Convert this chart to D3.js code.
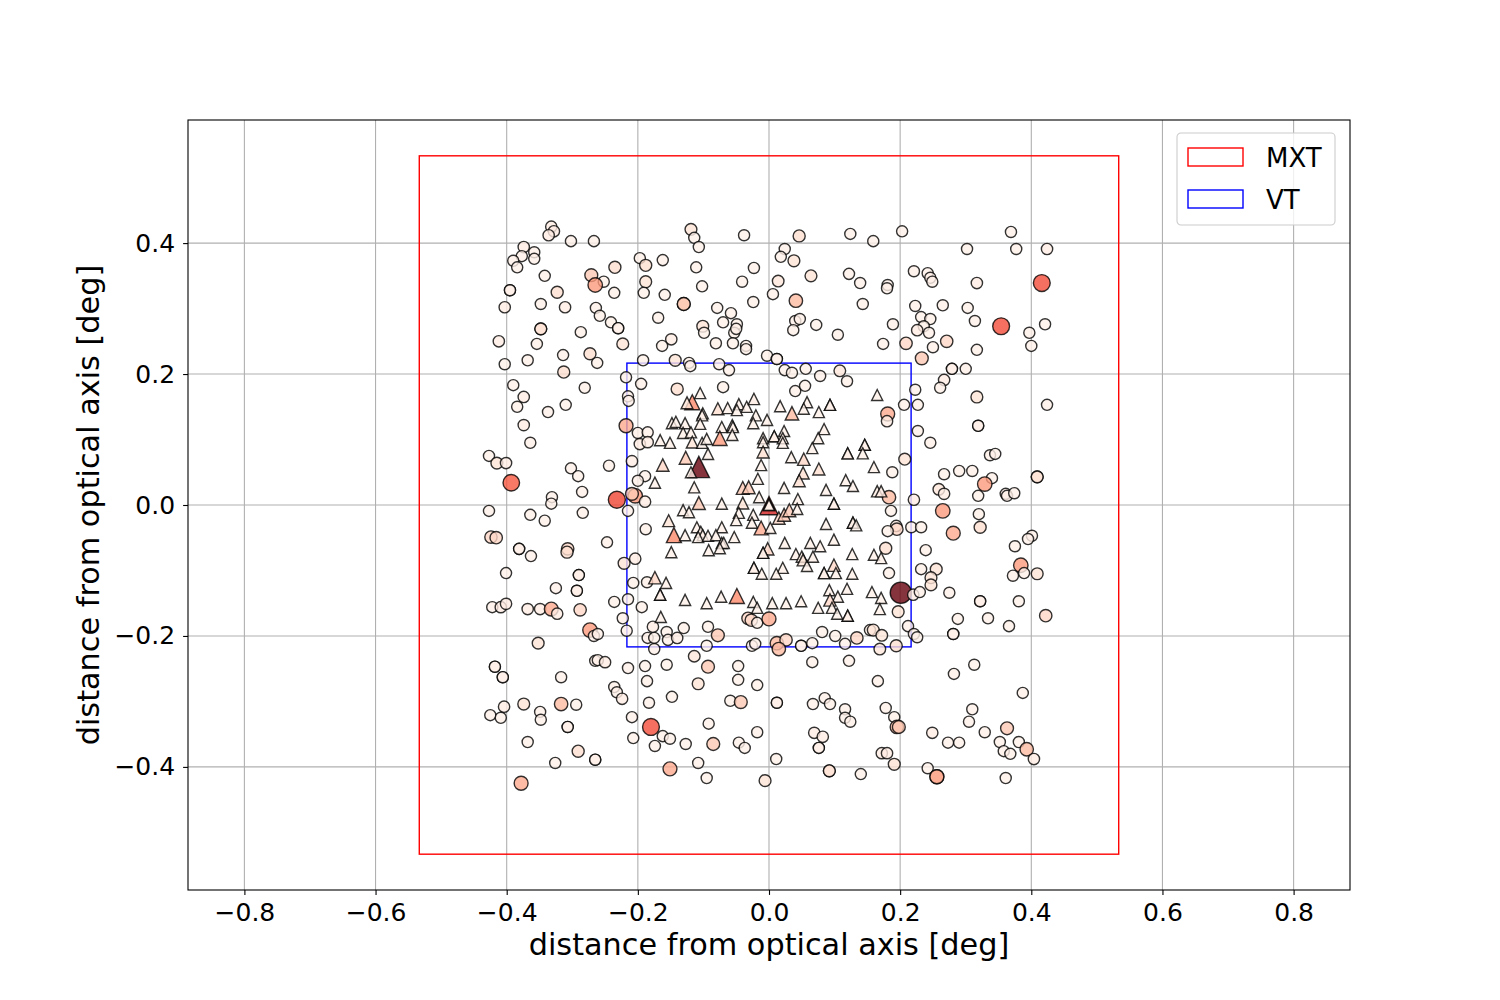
<!DOCTYPE html>
<html lang="en">
<head>
<meta charset="UTF-8">
<title>MXT / VT sources</title>
<script src="https://d3js.org/d3.v7.min.js"></script>
<style>
  body { margin: 0; background: #fff; }
  text { font-family: "DejaVu Sans", sans-serif; }
</style>
</head>
<body>
<div id="chart"></div>
<script>
// sources seen only by MXT (circles): [x deg, y deg, value]
const mxtSrc = [
  [-0.332,0.425,0.05],[-0.328,0.418,0.05],[-0.336,0.412,0.05],[-0.302,0.403,0.03],[-0.267,0.403,0.03],[-0.374,0.394,0.05],[-0.358,0.386,0.03],[-0.377,0.380,0.03],[-0.390,0.373,0.03],[-0.358,0.376,0.03],
  [-0.384,0.363,0.03],[-0.342,0.350,0.03],[-0.271,0.351,0.2],[-0.235,0.363,0.12],[-0.252,0.341,0.03],[-0.265,0.336,0.35],[-0.197,0.377,0.03],[-0.188,0.366,0.12],[-0.162,0.374,0.03],[-0.188,0.341,0.1],
  [-0.191,0.324,0.03],[-0.159,0.321,0.03],[-0.395,0.328,0.03],[-0.395,0.328,0.03],[-0.323,0.325,0.12],[-0.236,0.324,0.03],[-0.403,0.302,0.05],[-0.348,0.307,0.03],[-0.311,0.302,0.05],[-0.264,0.301,0.03],
  [-0.258,0.289,0.03],[-0.241,0.279,0.03],[-0.230,0.270,0.03],[-0.230,0.270,0.03],[-0.169,0.286,0.03],[-0.348,0.269,0.1],[-0.348,0.269,0.1],[-0.287,0.264,0.03],[-0.412,0.250,0.05],[-0.354,0.246,0.03],
  [-0.223,0.246,0.1],[-0.149,0.253,0.05],[-0.163,0.243,0.03],[-0.314,0.229,0.03],[-0.273,0.231,0.12],[-0.262,0.217,0.03],[-0.403,0.215,0.03],[-0.368,0.221,0.03],[-0.192,0.221,0.03],[-0.313,0.203,0.12],
  [-0.218,0.195,0.03],[-0.195,0.185,0.03],[-0.390,0.183,0.03],[-0.374,0.165,0.05],[-0.281,0.179,0.03],[-0.215,0.166,0.03],[-0.214,0.159,0.03],[-0.384,0.150,0.03],[-0.337,0.142,0.03],[-0.310,0.153,0.03],
  [-0.119,0.421,0.1],[-0.114,0.408,0.03],[-0.107,0.394,0.03],[-0.038,0.412,0.03],[0.046,0.411,0.12],[0.124,0.414,0.03],[0.159,0.403,0.03],[0.024,0.391,0.03],[0.018,0.379,0.03],[0.038,0.373,0.1],
  [-0.111,0.363,0.03],[-0.023,0.362,0.03],[0.064,0.350,0.1],[0.122,0.353,0.03],[0.139,0.339,0.03],[-0.041,0.341,0.03],[0.014,0.342,0.08],[-0.102,0.334,0.03],[0.006,0.322,0.03],[-0.130,0.307,0.2],
  [-0.130,0.307,0.2],[0.041,0.312,0.25],[0.143,0.307,0.03],[-0.024,0.310,0.03],[-0.079,0.301,0.03],[-0.058,0.293,0.03],[-0.070,0.279,0.03],[-0.049,0.276,0.03],[-0.101,0.273,0.1],[-0.099,0.263,0.03],
  [-0.053,0.263,0.03],[-0.050,0.269,0.03],[0.040,0.281,0.03],[0.047,0.284,0.03],[0.037,0.267,0.03],[0.072,0.275,0.03],[0.105,0.260,0.03],[-0.081,0.247,0.03],[-0.055,0.247,0.03],[-0.035,0.243,0.03],
  [-0.035,0.238,0.03],[-0.003,0.228,0.03],[0.012,0.223,0.03],[0.012,0.223,0.03],[-0.143,0.221,0.1],[-0.122,0.217,0.03],[-0.120,0.212,0.03],[-0.076,0.215,0.03],[-0.061,0.206,0.03],[0.024,0.206,0.03],
  [0.035,0.202,0.03],[0.056,0.208,0.03],[0.078,0.197,0.03],[0.108,0.205,0.08],[0.119,0.189,0.03],[-0.140,0.177,0.12],[-0.070,0.180,0.03],[0.040,0.174,0.03],[0.055,0.182,0.03],
  [0.203,0.418,0.03],[0.369,0.417,0.03],[0.377,0.391,0.03],[0.424,0.391,0.05],[0.302,0.391,0.03],[0.221,0.357,0.03],[0.242,0.354,0.03],[0.246,0.347,0.03],[0.249,0.341,0.03],[0.181,0.336,0.03],
  [0.180,0.331,0.03],[0.317,0.339,0.05],[0.416,0.339,0.58],[0.223,0.304,0.03],[0.265,0.305,0.03],[0.303,0.301,0.03],[0.232,0.287,0.03],[0.246,0.284,0.03],[0.236,0.273,0.03],[0.226,0.267,0.05],
  [0.244,0.263,0.03],[0.189,0.276,0.03],[0.314,0.281,0.03],[0.354,0.273,0.58],[0.421,0.276,0.03],[0.397,0.263,0.03],[0.400,0.243,0.03],[0.174,0.246,0.03],[0.209,0.247,0.15],[0.271,0.250,0.15],
  [0.250,0.241,0.03],[0.317,0.237,0.03],[0.233,0.224,0.2],[0.279,0.208,0.03],[0.279,0.208,0.03],[0.300,0.208,0.03],[0.267,0.191,0.05],[0.261,0.179,0.03],[0.223,0.176,0.03],[0.317,0.165,0.1],
  [0.206,0.153,0.03],[0.227,0.153,0.03],[0.181,0.139,0.3],[0.424,0.153,0.03],
  [-0.374,0.122,0.05],[-0.364,0.095,0.03],[-0.218,0.121,0.3],[-0.200,0.110,0.03],[-0.185,0.111,0.03],[-0.197,0.093,0.05],[-0.185,0.096,0.05],[-0.427,0.075,0.03],[-0.415,0.064,0.1],[-0.401,0.064,0.05],
  [-0.302,0.056,0.03],[-0.291,0.044,0.03],[-0.244,0.060,0.03],[-0.209,0.067,0.05],[-0.393,0.034,0.55],[-0.189,0.044,0.03],[-0.200,0.037,0.03],[-0.331,0.012,0.03],[-0.332,0.002,0.03],[-0.285,0.020,0.03],
  [-0.232,0.008,0.6],[-0.204,0.014,0.35],[-0.209,0.017,0.2],[-0.189,0.005,0.05],[-0.215,-0.009,0.03],[-0.427,-0.009,0.03],[-0.364,-0.015,0.03],[-0.342,-0.024,0.03],[-0.284,-0.012,0.03],[-0.188,-0.037,0.03],
  [-0.424,-0.049,0.15],[-0.416,-0.050,0.15],[-0.381,-0.067,0.03],[-0.381,-0.067,0.03],[-0.363,-0.078,0.03],[-0.307,-0.067,0.15],[-0.308,-0.072,0.12],[-0.247,-0.057,0.03],[-0.204,-0.082,0.05],[-0.221,-0.089,0.1],
  [-0.401,-0.104,0.03],[-0.290,-0.107,0.03],[-0.290,-0.107,0.03],[-0.293,-0.131,0.03],[-0.293,-0.131,0.03],[-0.325,-0.127,0.03],[-0.207,-0.119,0.03],[-0.186,-0.118,0.03],[-0.236,-0.148,0.03],[-0.215,-0.144,0.03],
  [-0.194,-0.156,0.03],[-0.422,-0.156,0.03],[-0.409,-0.156,0.05],[-0.401,-0.151,0.05],[-0.368,-0.159,0.05],[-0.349,-0.159,0.05],[-0.332,-0.159,0.3],[-0.323,-0.166,0.05],[-0.288,-0.160,0.15],
  [-0.223,-0.173,0.03],[-0.273,-0.191,0.35],[-0.267,-0.200,0.03],[-0.261,-0.197,0.03],[-0.217,-0.192,0.03],[-0.352,-0.211,0.1],[-0.177,-0.186,0.05],[-0.156,-0.194,0.03],[-0.185,-0.203,0.03],[-0.175,-0.203,0.03],
  [-0.154,-0.206,0.03],[-0.175,-0.220,0.03],[-0.418,-0.247,0.03],[-0.418,-0.247,0.03],[-0.406,-0.263,0.03],[-0.406,-0.263,0.03],[-0.317,-0.263,0.03],[-0.265,-0.238,0.03],[-0.261,-0.237,0.03],[-0.250,-0.240,0.05],
  [-0.215,-0.249,0.03],[-0.189,-0.246,0.03],[-0.156,-0.244,0.03],[-0.186,-0.269,0.03],[-0.236,-0.278,0.03],[-0.232,-0.286,0.03],[-0.224,-0.296,0.05],[-0.148,-0.293,0.03],[-0.183,-0.302,0.03],[-0.404,-0.308,0.05],
  [-0.425,-0.321,0.03],[-0.409,-0.325,0.03],[-0.374,-0.304,0.1],[-0.317,-0.304,0.25],[-0.294,-0.305,0.03],[-0.349,-0.316,0.03],[-0.348,-0.328,0.03],[-0.307,-0.339,0.03],[-0.307,-0.339,0.03],[-0.209,-0.324,0.03],
  [-0.180,-0.339,0.58],[-0.162,-0.353,0.03],[-0.151,-0.357,0.03],[-0.174,-0.368,0.03],[-0.207,-0.356,0.03],[-0.368,-0.362,0.03],[-0.291,-0.376,0.12],[-0.326,-0.394,0.03],[-0.265,-0.389,0.03],[-0.265,-0.389,0.03],
  [-0.151,-0.403,0.3],[-0.378,-0.425,0.3],
  [-0.032,-0.173,0.15],[-0.027,-0.176,0.15],[-0.018,-0.180,0.03],[0.000,-0.174,0.3],[-0.130,-0.188,0.03],[-0.093,-0.186,0.03],[-0.078,-0.199,0.2],[-0.140,-0.203,0.05],[-0.095,-0.215,0.03],[-0.026,-0.215,0.03],
  [-0.021,-0.212,0.03],[0.012,-0.211,0.25],[0.026,-0.206,0.15],[0.015,-0.220,0.25],[0.049,-0.215,0.03],[0.049,-0.215,0.03],[0.066,-0.211,0.03],[0.081,-0.194,0.03],[0.101,-0.200,0.03],[0.116,-0.212,0.03],
  [0.134,-0.203,0.15],[0.154,-0.191,0.03],[-0.114,-0.231,0.08],[-0.093,-0.247,0.2],[-0.047,-0.246,0.03],[0.066,-0.240,0.03],[0.122,-0.238,0.03],[-0.108,-0.273,0.1],[-0.047,-0.267,0.03],[-0.018,-0.275,0.03],
  [-0.059,-0.299,0.03],[-0.043,-0.301,0.2],[0.012,-0.302,0.03],[0.012,-0.302,0.03],[0.067,-0.304,0.03],[0.085,-0.295,0.03],[0.093,-0.304,0.03],[0.116,-0.312,0.03],[0.116,-0.325,0.03],[0.124,-0.331,0.03],
  [-0.092,-0.334,0.03],[-0.018,-0.347,0.03],[0.069,-0.348,0.05],[0.082,-0.354,0.05],[0.076,-0.371,0.03],[0.076,-0.371,0.03],[-0.127,-0.365,0.03],[-0.085,-0.365,0.2],[-0.046,-0.363,0.03],[-0.037,-0.371,0.03],
  [0.011,-0.388,0.03],[-0.108,-0.394,0.03],[-0.095,-0.417,0.03],[-0.006,-0.421,0.1],[0.092,-0.406,0.1],[0.092,-0.406,0.1],[0.140,-0.411,0.03],
  [0.197,-0.163,0.1],[0.212,-0.185,0.03],[0.221,-0.197,0.03],[0.226,-0.202,0.03],[0.159,-0.191,0.1],[0.172,-0.199,0.08],[0.169,-0.220,0.08],[0.194,-0.215,0.12],[0.288,-0.174,0.03],[0.334,-0.173,0.03],
  [0.366,-0.185,0.03],[0.422,-0.169,0.15],[0.281,-0.197,0.03],[0.281,-0.197,0.03],[0.313,-0.244,0.03],[0.282,-0.258,0.03],[0.166,-0.269,0.03],[0.387,-0.287,0.03],[0.178,-0.310,0.03],[0.191,-0.324,0.03],
  [0.195,-0.339,0.25],[0.198,-0.339,0.2],[0.310,-0.312,0.03],[0.305,-0.331,0.03],[0.249,-0.348,0.05],[0.273,-0.363,0.03],[0.290,-0.363,0.03],[0.329,-0.347,0.03],[0.363,-0.341,0.2],[0.352,-0.362,0.03],
  [0.358,-0.376,0.03],[0.368,-0.380,0.03],[0.381,-0.362,0.03],[0.393,-0.373,0.25],[0.404,-0.388,0.05],[0.172,-0.379,0.05],[0.180,-0.379,0.05],[0.191,-0.396,0.1],[0.242,-0.402,0.03],[0.256,-0.415,0.3],
  [0.256,-0.415,0.3],[0.361,-0.417,0.03],
  [0.180,0.128,0.05],[0.227,0.113,0.03],[0.246,0.095,0.03],[0.319,0.121,0.03],[0.319,0.121,0.03],[0.207,0.070,0.1],[0.188,0.050,0.03],[0.267,0.047,0.03],[0.290,0.052,0.03],[0.310,0.052,0.03],
  [0.337,0.076,0.03],[0.345,0.078,0.03],[0.340,0.041,0.03],[0.329,0.032,0.35],[0.259,0.024,0.08],[0.267,0.017,0.05],[0.319,0.014,0.03],[0.361,0.017,0.03],[0.363,0.014,0.03],[0.374,0.018,0.03],
  [0.409,0.043,0.1],[0.409,0.043,0.1],[0.183,0.012,0.25],[0.221,0.008,0.05],[0.186,-0.009,0.03],[0.265,-0.009,0.35],[0.320,-0.014,0.03],[0.194,-0.032,0.05],[0.195,-0.037,0.15],[0.181,-0.040,0.03],
  [0.217,-0.034,0.03],[0.232,-0.034,0.03],[0.322,-0.034,0.12],[0.281,-0.043,0.3],[0.401,-0.047,0.03],[0.395,-0.052,0.03],[0.375,-0.063,0.03],[0.178,-0.066,0.12],[0.239,-0.069,0.03],[0.232,-0.098,0.03],
  [0.255,-0.098,0.1],[0.247,-0.111,0.1],[0.247,-0.122,0.1],[0.183,-0.104,0.03],[0.384,-0.092,0.35],[0.372,-0.108,0.03],[0.389,-0.104,0.03],[0.409,-0.105,0.1],[0.201,-0.134,1.0],[0.220,-0.137,0.05],
  [0.230,-0.133,0.03],[0.275,-0.134,0.03],[0.322,-0.147,0.03],[0.322,-0.147,0.03],[0.381,-0.147,0.03]
];

// sources inside the VT field (triangles): [x deg, y deg, value]
const vtSrc = [
  [-0.117,0.157,0.4],[-0.125,0.156,0.1],[-0.105,0.171,0.03],[-0.078,0.147,0.12],[-0.063,0.148,0.03],[-0.046,0.154,0.03],[-0.034,0.150,0.03],[-0.023,0.162,0.05],[-0.049,0.145,0.03],[0.017,0.151,0.03],
  [0.035,0.140,0.25],[0.058,0.157,0.03],[0.053,0.147,0.03],[0.076,0.142,0.03],[0.093,0.153,0.03],[0.093,0.153,0.03],[-0.101,0.140,0.03],[0.165,0.168,0.03],[-0.148,0.125,0.03],[-0.166,0.099,0.03],
  [-0.151,0.095,0.03],[-0.162,0.061,0.15],[-0.174,0.034,0.03],[-0.153,-0.024,0.1],[-0.145,-0.046,0.4],[-0.149,-0.072,0.03],[-0.174,-0.111,0.15],[-0.157,-0.119,0.03],[-0.166,-0.137,0.03],[-0.166,-0.137,0.03],
  [-0.142,0.127,0.03],[-0.128,0.125,0.03],[-0.102,0.137,0.03],[-0.105,0.124,0.03],[-0.020,0.137,0.03],[-0.003,0.130,0.03],[-0.072,0.119,0.03],[-0.056,0.122,0.03],[-0.055,0.119,0.03],[-0.024,0.125,0.03],
  [-0.131,0.110,0.03],[-0.119,0.111,0.03],[-0.117,0.096,0.1],[-0.102,0.095,0.03],[-0.095,0.101,0.03],[-0.075,0.102,0.35],[-0.056,0.107,0.03],[-0.009,0.102,0.03],[-0.009,0.096,0.03],[0.008,0.105,0.03],
  [0.008,0.105,0.03],[0.023,0.113,0.03],[0.021,0.102,0.03],[0.021,0.095,0.03],[0.084,0.116,0.03],[0.075,0.102,0.03],[0.066,0.087,0.03],[0.146,0.092,0.03],[0.146,0.092,0.03],[0.143,0.079,0.03],
  [0.120,0.079,0.03],[0.120,0.079,0.03],[-0.009,0.081,0.12],[-0.093,0.078,0.03],[-0.127,0.072,0.2],[-0.107,0.058,1.0],[-0.119,0.050,0.03],[-0.012,0.061,0.03],[0.034,0.073,0.03],[0.053,0.070,0.15],
  [0.076,0.055,0.12],[0.052,0.049,0.12],[0.046,0.037,0.12],[0.117,0.038,0.03],[0.128,0.029,0.03],[-0.017,0.040,0.03],[-0.040,0.026,0.2],[-0.031,0.027,0.2],[0.023,0.026,0.03],[0.087,0.023,0.03],
  [-0.114,0.027,0.03],[-0.107,0.003,0.2],[-0.072,0.002,0.03],[-0.040,0.003,0.1],[-0.015,0.012,0.03],
  [0.0,-0.001,0.72],[0.0,0.0,0.03],[0.0,0.001,0.03],[0.0,0.0,0.03],
  [0.044,0.009,0.03],[0.099,0.002,0.03],[0.099,0.002,0.03],[-0.131,-0.008,0.03],[-0.122,-0.011,0.03],[-0.046,-0.012,0.03],[-0.050,-0.023,0.03],[-0.024,-0.015,0.03],[0.015,-0.020,0.15],[0.023,-0.015,0.2],
  [0.031,-0.008,0.2],[0.043,-0.006,0.03],[-0.128,-0.046,0.03],[-0.110,-0.034,0.03],[-0.104,-0.041,0.03],[-0.101,-0.046,0.03],[-0.108,-0.049,0.03],[-0.093,-0.047,0.03],[-0.072,-0.034,0.03],[-0.081,-0.046,0.03],
  [-0.053,-0.049,0.03],[-0.072,-0.058,0.03],[-0.069,-0.058,0.03],[-0.026,-0.027,0.03],[-0.012,-0.035,0.3],[0.002,-0.035,0.03],[-0.092,-0.069,0.03],[-0.075,-0.066,0.03],[0.024,-0.058,0.03],[0.041,-0.075,0.03],
  [0.063,-0.058,0.03],[0.078,-0.063,0.03],[0.099,-0.053,0.03],[0.087,-0.029,0.03],[0.128,-0.027,0.03],[0.128,-0.027,0.03],[0.133,-0.031,0.03],[0.127,-0.075,0.03],[-0.002,-0.067,0.15],[-0.009,-0.073,0.03],
  [-0.009,-0.073,0.03],[0.050,-0.079,0.03],[0.052,-0.084,0.1],[0.058,-0.093,0.03],[0.067,-0.079,0.03],[-0.023,-0.096,0.03],[-0.023,-0.096,0.03],[-0.011,-0.105,0.03],[0.021,-0.096,0.03],[0.011,-0.105,0.03],
  [0.084,-0.104,0.03],[0.084,-0.104,0.03],[0.099,-0.092,0.15],[0.102,-0.104,0.03],[0.127,-0.105,0.03],[0.092,-0.130,0.03],[0.105,-0.140,0.03],[0.119,-0.128,0.03],[0.093,-0.145,0.15],[-0.128,-0.145,0.03],
  [-0.095,-0.150,0.03],[-0.073,-0.140,0.03],[-0.049,-0.139,0.4],[-0.024,-0.148,0.03],[0.005,-0.150,0.03],[0.026,-0.150,0.03],[0.049,-0.147,0.03],[0.075,-0.157,0.03],[-0.018,-0.157,0.03],[0.096,-0.157,0.03],
  [0.104,-0.166,0.03],[0.120,-0.169,0.03],[0.120,-0.169,0.03],
  [0.160,0.058,0.03],[0.165,0.021,0.05],[0.171,0.021,0.05],[0.160,-0.076,0.03],[0.171,-0.081,0.03],[0.157,-0.133,0.03],[0.171,-0.142,0.03],[0.169,-0.159,0.03],[-0.165,-0.171,0.03]
];

const xTicks = [-0.8, -0.6, -0.4, -0.2, 0.0, 0.2, 0.4, 0.6, 0.8];
const yTicks = [-0.4, -0.2, 0.0, 0.2, 0.4];
const fields = [
  { name: "MXT", half: 0.5333, color: "red" },
  { name: "VT",  half: 0.2167, color: "blue" }
];
const axisLabel = "distance from optical axis [deg]";

const W = 1500, H = 1000;
const margin = { top: 120, right: 150, bottom: 110, left: 188 };
const plotW = W - margin.left - margin.right,
      plotH = H - margin.top - margin.bottom;

const x = d3.scaleLinear().domain([-0.886, 0.886]).range([0, plotW]);
const y = d3.scaleLinear().domain([-0.588, 0.588]).range([plotH, 0]);
const size = v => 5.4 + 5.2 * v;   // marker half-size in px
const color = v => d3.interpolateReds(v);
const fmt = d3.format(".1f");

const svg = d3.select("#chart").append("svg")
    .attr("width", W)
    .attr("height", H);

const g = svg.append("g")
    .attr("transform", "translate(" + margin.left + "," + margin.top + ")");

// grid
g.append("g").selectAll("line")
  .data(xTicks)
  .join("line")
    .attr("x1", d => x(d)).attr("x2", d => x(d))
    .attr("y1", 0).attr("y2", plotH)
    .attr("stroke", "#b0b0b0").attr("stroke-width", 1.1);
g.append("g").selectAll("line")
  .data(yTicks)
  .join("line")
    .attr("y1", d => y(d)).attr("y2", d => y(d))
    .attr("x1", 0).attr("x2", plotW)
    .attr("stroke", "#b0b0b0").attr("stroke-width", 1.1);

// field of view boxes
g.append("g").selectAll("rect")
  .data(fields)
  .join("rect")
    .attr("x", d => x(-d.half))
    .attr("y", d => y(d.half))
    .attr("width", d => x(d.half) - x(-d.half))
    .attr("height", d => y(-d.half) - y(d.half))
    .attr("fill", "none")
    .attr("stroke", d => d.color)
    .attr("stroke-width", 1.4);

// MXT sources
g.append("g").selectAll("circle")
  .data(mxtSrc)
  .join("circle")
    .attr("cx", d => x(d[0]))
    .attr("cy", d => y(d[1]))
    .attr("r", d => size(d[2]))
    .attr("fill", d => color(d[2]))
    .attr("fill-opacity", 0.8)
    .attr("stroke", "black")
    .attr("stroke-opacity", 0.8)
    .attr("stroke-width", 1.4);

// VT sources
const tri = r => "M0," + (-r) + "L" + r + "," + r + "L" + (-r) + "," + r + "Z";
g.append("g").selectAll("path")
  .data(vtSrc)
  .join("path")
    .attr("transform", d => "translate(" + x(d[0]) + "," + y(d[1]) + ")")
    .attr("d", d => tri(size(d[2])))
    .attr("fill", d => color(d[2]))
    .attr("fill-opacity", 0.8)
    .attr("stroke", "black")
    .attr("stroke-opacity", 0.8)
    .attr("stroke-width", 1.4)
    .attr("stroke-linejoin", "miter");

// axes
const xAxis = g.append("g")
    .attr("transform", "translate(0," + plotH + ")")
    .call(d3.axisBottom(x).tickValues(xTicks).tickFormat(fmt).tickSize(4.9).tickPadding(8));
const yAxis = g.append("g")
    .call(d3.axisLeft(y).tickValues(yTicks).tickFormat(fmt).tickSize(4.9).tickPadding(8));
[xAxis, yAxis].forEach(a => {
  a.select(".domain").remove();
  a.selectAll("line").attr("stroke-width", 1.1);
  a.selectAll("text")
    .style("font-family", "'DejaVu Sans', sans-serif")
    .style("font-size", "25px")
    .attr("fill", "black");
});

// frame
g.append("rect")
    .attr("width", plotW).attr("height", plotH)
    .attr("fill", "none")
    .attr("stroke", "black")
    .attr("stroke-width", 1.1);

// axis labels
svg.append("text")
    .attr("x", margin.left + plotW / 2)
    .attr("y", 955)
    .attr("text-anchor", "middle")
    .style("font-size", "30.3px")
    .text(axisLabel);
svg.append("text")
    .attr("transform", "translate(99," + (margin.top + plotH / 2) + ") rotate(-90)")
    .attr("text-anchor", "middle")
    .style("font-size", "30.3px")
    .text(axisLabel);

// legend
const leg = svg.append("g").attr("transform", "translate(1177,133)");
leg.append("rect")
    .attr("width", 158).attr("height", 92)
    .attr("rx", 4)
    .attr("fill", "white").attr("fill-opacity", 0.8)
    .attr("stroke", "#cccccc").attr("stroke-width", 1.1);
const item = leg.selectAll("g.item")
  .data(fields)
  .join("g")
    .attr("class", "item")
    .attr("transform", (d, i) => "translate(11," + (15 + i * 42) + ")");
item.append("rect")
    .attr("width", 55).attr("height", 18)
    .attr("fill", "none")
    .attr("stroke", d => d.color)
    .attr("stroke-width", 1.4);
item.append("text")
    .attr("x", 78).attr("y", 19)
    .style("font-size", "26px")
    .text(d => d.name);
</script>
</body>
</html>
